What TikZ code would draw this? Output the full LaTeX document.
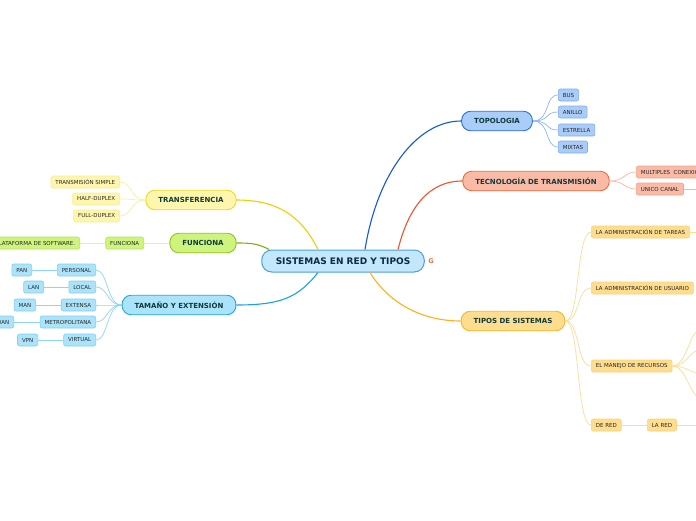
\documentclass[tikz,border=0pt]{standalone}
\usepackage{fontspec}
\setmainfont{DejaVu Sans}
\usepackage{tikz}
\definecolor{CentroFill}{HTML}{C3E8FB}
\definecolor{CentroBorde}{HTML}{4A9FDD}
\definecolor{CentroTexto}{HTML}{0D2848}
\definecolor{RamaTexto}{HTML}{0E3B3B}
\definecolor{HojaTexto}{HTML}{262626}
\definecolor{TopoFill}{HTML}{A9CCF8}
\definecolor{TopoBorde}{HTML}{2C6FD8}
\definecolor{TopoLinea}{HTML}{1559CF}
\definecolor{TopoHoja}{HTML}{80AEF0}
\definecolor{TopoFina}{HTML}{8DB7F5}
\definecolor{TecFill}{HTML}{FABBA6}
\definecolor{TecBorde}{HTML}{EE6A3E}
\definecolor{TecLinea}{HTML}{F0522A}
\definecolor{TecHoja}{HTML}{F7A38A}
\definecolor{TecFina}{HTML}{F9B7A2}
\definecolor{TipoFill}{HTML}{FEDD8E}
\definecolor{TipoBorde}{HTML}{F5B82A}
\definecolor{TipoLinea}{HTML}{FBB319}
\definecolor{TipoHoja}{HTML}{FBD27A}
\definecolor{TipoFina}{HTML}{FDDC94}
\definecolor{TransFill}{HTML}{FFF6AE}
\definecolor{TransBorde}{HTML}{F0D91F}
\definecolor{TransLinea}{HTML}{EDCF07}
\definecolor{TransHoja}{HTML}{F8EC98}
\definecolor{TransFina}{HTML}{F9EFA6}
\definecolor{FuncFill}{HTML}{CFF47E}
\definecolor{FuncBorde}{HTML}{8DC71B}
\definecolor{FuncLinea}{HTML}{7BB30E}
\definecolor{FuncHoja}{HTML}{B8E25E}
\definecolor{FuncFina}{HTML}{DDF2B0}
\definecolor{TamFill}{HTML}{ABE4FA}
\definecolor{TamBorde}{HTML}{1EA5E0}
\definecolor{TamLinea}{HTML}{16A3E6}
\definecolor{TamHoja}{HTML}{84D0F0}
\definecolor{TamFina}{HTML}{8DD5F3}
\definecolor{GoogleG}{HTML}{E0724A}

\begin{document}
\begin{tikzpicture}[
  x=1pt,y=-1pt,
  centro/.style={rounded corners=10pt,draw=CentroBorde,fill=CentroFill,line width=1pt,
    font=\bfseries\fontsize{9}{10}\selectfont,text=CentroTexto,
    minimum height=22pt,inner xsep=14pt},
  rama/.style={rounded corners=9pt,line width=0.9pt,
    font=\bfseries\fontsize{7}{8}\selectfont,text=RamaTexto,
    minimum height=19.5pt,inner xsep=12.5pt},
  hoja/.style={rounded corners=2pt,line width=0.6pt,
    font=\fontsize{5.5}{6}\selectfont,text=HojaTexto,
    minimum height=12pt,inner xsep=4.5pt},
  gruesa/.style={line width=1.1pt},
  fina/.style={line width=0.7pt}
]
  \fill[white] (0,0) rectangle (696,520);
  \useasboundingbox (0,0) rectangle (696,520);

  % Nodo central.
  \node[centro] (sistemas) at (343,261) {SISTEMAS EN RED Y TIPOS};
  \node[font=\bfseries\fontsize{6.5}{6.5}\selectfont,text=GoogleG,inner sep=0pt] (google)
    at (431,261) {G};

  % Rama: topologia.
  \node[rama,fill=TopoFill,draw=TopoBorde] (topologia) at (497,121) {TOPOLOGIA};
  \node[hoja,fill=TopoFill,draw=TopoHoja,anchor=west] (bus) at (558,95) {BUS};
  \node[hoja,fill=TopoFill,draw=TopoHoja,anchor=west] (anillo) at (558,112) {ANILLO};
  \node[hoja,fill=TopoFill,draw=TopoHoja,anchor=west] (estrella) at (558,130) {ESTRELLA};
  \node[hoja,fill=TopoFill,draw=TopoHoja,anchor=west] (mixtas) at (558,147) {MIXTAS};
  \draw[gruesa,TopoLinea] ([xshift=22pt]sistemas.north)
    .. controls +(12,-75) and +(-45,0) .. (topologia.west);
  \draw[fina,TopoFina] (topologia.east) .. controls +(18,0) and +(-14,0) .. (bus.west);
  \draw[fina,TopoFina] (topologia.east) .. controls +(18,0) and +(-14,0) .. (anillo.west);
  \draw[fina,TopoFina] (topologia.east) .. controls +(18,0) and +(-14,0) .. (estrella.west);
  \draw[fina,TopoFina] (topologia.east) .. controls +(18,0) and +(-14,0) .. (mixtas.west);

  % Rama: tecnologia de transmision.
  \node[rama,fill=TecFill,draw=TecBorde] (tecnologia) at (536,181)
    {TECNOLOGÍA DE TRANSMISIÓN};
  \node[hoja,fill=TecFill,draw=TecHoja,anchor=west] (multiples) at (636,172)
    {MULTIPLES\ \ CONEXIONES};
  \node[hoja,fill=TecFill,draw=TecHoja,anchor=west] (unico) at (636,189) {UNICO CANAL};
  \coordinate (unicoFin) at (720,189);
  \draw[gruesa,TecLinea] ([xshift=55pt]sistemas.north)
    .. controls +(10,-40) and +(-35,0) .. (tecnologia.west);
  \draw[fina,TecFina] (tecnologia.east) .. controls +(15,0) and +(-12,0) .. (multiples.west);
  \draw[fina,TecFina] (tecnologia.east) .. controls +(15,0) and +(-12,0) .. (unico.west);
  \draw[fina,TecFina] (unico.east) -- (unicoFin);

  % Rama: tipos de sistemas.
  \node[rama,fill=TipoFill,draw=TipoBorde] (tipos) at (513,321) {TIPOS DE SISTEMAS};
  \node[hoja,fill=TipoFill,draw=TipoHoja,anchor=west] (tareas) at (591,232)
    {LA ADMINISTRACIÓN DE TAREAS};
  \node[hoja,fill=TipoFill,draw=TipoHoja,anchor=west] (usuario) at (591,288)
    {LA ADMINISTRACIÓN DE USUARIO};
  \node[hoja,fill=TipoFill,draw=TipoHoja,anchor=west] (recursos) at (591,366)
    {EL MANEJO DE RECURSOS};
  \node[hoja,fill=TipoFill,draw=TipoHoja,anchor=west] (dered) at (591,425) {DE RED};
  \node[hoja,fill=TipoFill,draw=TipoHoja,anchor=west] (lared) at (647,425) {LA RED};
  \coordinate (tareasFin) at (720,232);
  \coordinate (laredFin) at (720,425);
  \coordinate (recursosA) at (700,330);
  \coordinate (recursosB) at (700,350);
  \coordinate (recursosC) at (700,373);
  \coordinate (recursosD) at (700,397);
  \draw[gruesa,TipoLinea] ([xshift=27pt]sistemas.south)
    .. controls +(15,25) and +(-45,0) .. (tipos.west);
  \draw[fina,TipoFina] (tipos.east) .. controls +(15,0) and +(-15,0) .. (tareas.west);
  \draw[fina,TipoFina] (tipos.east) .. controls +(15,0) and +(-15,0) .. (usuario.west);
  \draw[fina,TipoFina] (tipos.east) .. controls +(15,0) and +(-15,0) .. (recursos.west);
  \draw[fina,TipoFina] (tipos.east) .. controls +(15,0) and +(-15,0) .. (dered.west);
  \draw[fina,TipoFina] (tareas.east) -- (tareasFin);
  \draw[fina,TipoFina] (dered.east) -- (lared.west);
  \draw[fina,TipoFina] (lared.east) -- (laredFin);
  \draw[fina,TipoFina] (recursos.east) .. controls +(14,0) and +(-10,0) .. (recursosA);
  \draw[fina,TipoFina] (recursos.east) .. controls +(14,0) and +(-10,0) .. (recursosB);
  \draw[fina,TipoFina] (recursos.east) .. controls +(14,0) and +(-10,0) .. (recursosC);
  \draw[fina,TipoFina] (recursos.east) .. controls +(14,0) and +(-10,0) .. (recursosD);

  % Rama: transferencia.
  \node[rama,fill=TransFill,draw=TransBorde] (transferencia) at (191,200) {TRANSFERENCIA};
  \node[hoja,fill=TransFill,draw=TransHoja,anchor=east] (simple) at (120,182)
    {TRANSMISIÓN SIMPLE};
  \node[hoja,fill=TransFill,draw=TransHoja,anchor=east] (half) at (120,199) {HALF-DUPLEX};
  \node[hoja,fill=TransFill,draw=TransHoja,anchor=east] (full) at (120,216) {FULL-DUPLEX};
  \draw[gruesa,TransLinea] ([xshift=-25pt]sistemas.north)
    .. controls +(-15,-30) and +(45,0) .. (transferencia.east);
  \draw[fina,TransFina] (transferencia.west) .. controls +(-15,0) and +(12,0) .. (simple.east);
  \draw[fina,TransFina] (transferencia.west) .. controls +(-15,0) and +(12,0) .. (half.east);
  \draw[fina,TransFina] (transferencia.west) .. controls +(-15,0) and +(12,0) .. (full.east);

  % Rama: funciona.
  \node[rama,fill=FuncFill,draw=FuncBorde] (funciona) at (203,243) {FUNCIONA};
  \node[hoja,fill=FuncFill,draw=FuncHoja,anchor=east] (funcionaHoja) at (144,243) {FUNCIONA};
  \node[hoja,fill=FuncFill,draw=FuncHoja,anchor=east] (plataforma) at (80,243)
    {PLATAFORMA DE SOFTWARE.};
  \draw[gruesa,FuncLinea] ([xshift=8pt]sistemas.north west)
    .. controls +(-12,-6) and +(15,0) .. (funciona.east);
  \draw[fina,FuncFina] (funciona.west) -- (funcionaHoja.east);
  \draw[fina,FuncFina] (funcionaHoja.west) -- (plataforma.east);

  % Rama: tamano y extension.
  \node[rama,fill=TamFill,draw=TamBorde] (tamano) at (179,305) {TAMAÑO Y EXTENSIÓN};
  \node[hoja,fill=TamFill,draw=TamHoja,anchor=east] (personal) at (96,270) {PERSONAL};
  \node[hoja,fill=TamFill,draw=TamHoja,anchor=east] (local) at (96,287) {LOCAL};
  \node[hoja,fill=TamFill,draw=TamHoja,anchor=east] (extensa) at (96,305) {EXTENSA};
  \node[hoja,fill=TamFill,draw=TamHoja,anchor=east] (metro) at (96,322) {METROPOLITANA};
  \node[hoja,fill=TamFill,draw=TamHoja,anchor=east] (virtual) at (96,340) {VIRTUAL};
  \node[hoja,fill=TamFill,draw=TamHoja,anchor=east] (pan) at (32,270) {PAN};
  \node[hoja,fill=TamFill,draw=TamHoja,anchor=east] (lan) at (44,287) {LAN};
  \node[hoja,fill=TamFill,draw=TamHoja,anchor=east] (man) at (36,305) {MAN};
  \node[hoja,fill=TamFill,draw=TamHoja,anchor=east] (wan) at (14,322) {WAN};
  \node[hoja,fill=TamFill,draw=TamHoja,anchor=east] (vpn) at (38,340) {VPN};
  \draw[gruesa,TamLinea] ([xshift=-25pt]sistemas.south)
    .. controls +(-20,25) and +(45,0) .. (tamano.east);
  \draw[fina,TamFina] (tamano.west) .. controls +(-15,0) and +(12,0) .. (personal.east);
  \draw[fina,TamFina] (tamano.west) .. controls +(-15,0) and +(12,0) .. (local.east);
  \draw[fina,TamFina] (tamano.west) .. controls +(-15,0) and +(12,0) .. (extensa.east);
  \draw[fina,TamFina] (tamano.west) .. controls +(-15,0) and +(12,0) .. (metro.east);
  \draw[fina,TamFina] (tamano.west) .. controls +(-15,0) and +(12,0) .. (virtual.east);
  \draw[fina,TamFina] (personal.west) -- (pan.east);
  \draw[fina,TamFina] (local.west) -- (lan.east);
  \draw[fina,TamFina] (extensa.west) -- (man.east);
  \draw[fina,TamFina] (metro.west) -- (wan.east);
  \draw[fina,TamFina] (virtual.west) -- (vpn.east);
\end{tikzpicture}
\end{document}
